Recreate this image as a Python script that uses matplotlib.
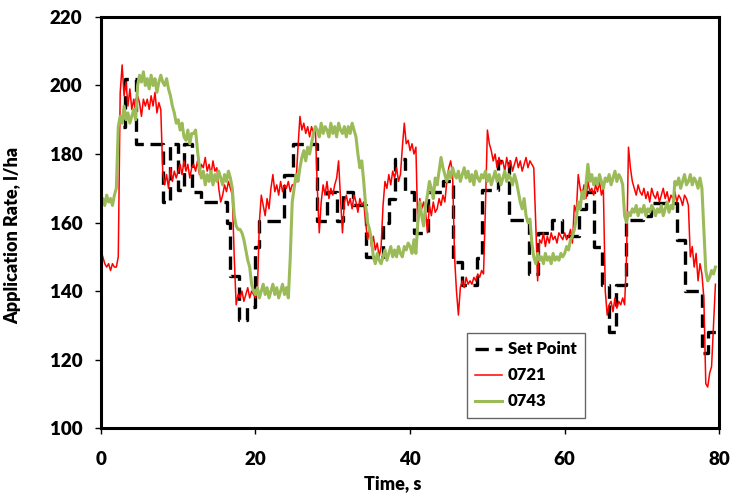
import matplotlib.pyplot as plt
import numpy as np

plt.rcParams['font.family'] = ['Lato', 'DejaVu Sans']

# nozzle 0721, application rate (l/ha) sampled every 0.25 s, one row = 2 s
rate_0721 = [
    152, 150, 148, 147, 148, 146, 148, 147,
    147, 150, 198, 206, 197, 201, 194, 199,
    193, 196, 192, 197, 195, 191, 196, 194,
    196, 193, 197, 194, 198, 192, 195, 193,
    175, 171, 174, 170, 176, 172, 175, 173,
    175, 177, 174, 178, 175, 177, 173, 176,
    177, 175, 178, 174, 177, 176, 179, 175,
    177, 174, 178, 175, 176, 170, 166, 168,
    171, 169, 172, 170, 168, 150, 136, 139,
    138, 140, 137, 139, 141, 138, 140, 139,
    138, 140, 160, 168, 165, 162, 167, 164,
    170, 174, 169, 171, 168, 172, 169, 171,
    170, 172, 169, 171, 171, 172, 182, 191,
    187, 189, 186, 188, 185, 188, 186, 187,
    170, 157, 166, 171, 168, 172, 167, 170,
    168, 171, 173, 178, 167, 157, 166, 168,
    165, 167, 164, 168, 166, 163, 167, 165,
    166, 160, 155, 158, 153, 156, 152, 154,
    150, 153, 165, 172, 170, 174, 171, 175,
    173, 176, 172, 174, 182, 189, 183, 184,
    181, 183, 180, 182, 158, 167, 164, 166,
    163, 157, 165, 162, 166, 163, 164, 167,
    165, 168, 166, 172, 176, 178, 174, 150,
    140, 133, 141, 143, 141, 144, 142, 143,
    142, 144, 143, 145, 144, 146, 145, 165,
    187, 183, 181, 178, 180, 176, 179, 177,
    178, 175, 179, 176, 178, 175, 177, 179,
    176, 178, 175, 177, 179, 176, 178, 177,
    176, 160, 143, 155, 154, 157, 153, 156,
    154, 157, 155, 156, 154, 157, 156, 155,
    157, 155, 156, 158, 154, 165, 163, 174,
    170, 168, 171, 167, 172, 169, 170, 168,
    171, 169, 172, 168, 170, 140, 133, 136,
    137, 134, 138, 135, 137, 136, 138, 136,
    150, 182, 176, 172, 170, 168, 171, 169,
    168, 170, 167, 169, 166, 170, 168, 167,
    169, 166, 168, 170, 167, 169, 166, 168,
    167, 169, 166, 168, 167, 165, 168, 167,
    165, 150, 153, 147, 151, 143, 148, 145,
    138, 113, 112, 116, 118, 130, 142,
]

# nozzle 0743
rate_0743 = [
    166, 167, 165, 168, 166, 167, 165, 168,
    170, 188, 191, 189, 194, 190, 192, 189,
    191, 193, 190, 200, 203, 201, 204, 200,
    202, 199, 203, 200, 202, 198, 201, 203,
    201, 200, 202, 199, 197, 194, 192, 189,
    190, 187, 189, 185, 184, 187, 183, 186,
    186, 187, 181, 176, 173, 175, 171, 174,
    172, 175, 171, 174, 172, 175, 173, 171,
    174, 172, 175, 173, 170, 162, 159, 158,
    158, 157, 155, 152, 149, 147, 142, 140,
    139, 141, 138, 140, 142, 139, 141, 138,
    140, 142, 139, 141, 138, 140, 142, 139,
    141, 138, 150, 166, 170, 174, 172, 176,
    179, 181, 178, 182, 180, 183, 186, 188,
    187, 185, 189, 186, 188, 187, 185, 189,
    186, 188, 185, 189, 187, 186, 188, 185,
    188, 186, 189, 187, 185, 180, 176, 178,
    172, 165, 160, 158, 155, 150, 148, 151,
    149, 148, 150, 152, 149, 151, 153, 150,
    152, 150, 153, 151, 150, 153, 152, 154,
    153, 151, 155, 151, 160, 166, 162, 159,
    165, 168, 172, 170, 167, 173, 171, 175,
    179, 176, 174, 172, 175, 173, 176, 174,
    173, 175, 172, 174, 176, 173, 175, 172,
    174, 171, 175, 173, 172, 174, 173, 175,
    172, 174, 171, 173, 175, 172, 174, 171,
    173, 175, 172, 174, 173, 171, 174, 172,
    169, 166, 164, 167, 162, 160, 161, 154,
    150, 148, 151, 149, 150, 148, 151, 149,
    150, 148, 151, 149, 150, 149, 151, 150,
    151, 153, 152, 155, 156, 158, 161, 166,
    164, 169, 167, 171, 177, 172, 174, 171,
    173, 171, 174, 172, 170, 173, 172, 174,
    171, 173, 175, 172, 174, 173, 171, 162,
    160, 163, 162, 164, 163, 165, 162, 164,
    163, 165, 162, 164, 163, 165, 164, 162,
    164, 163, 165, 162, 164, 166, 163, 165,
    164, 172, 171, 173, 170, 172, 174, 171,
    172, 174, 171, 173, 172, 170, 173, 170,
    158, 146, 143, 144, 146, 145, 147,
]

# set point changes (time s, rate l/ha), held until the next change
sp_time = [2.9, 3.1, 4.6, 8.0, 9.0, 10.0, 10.7, 11.8, 13.0, 16.3, 16.7, 17.9,
           18.9, 19.9, 20.4, 23.7, 24.9, 27.9, 29.3, 30.5, 31.3, 32.6, 34.3,
           36.5, 37.3, 38.1, 39.4, 40.5, 42.3, 44.3, 45.5, 46.7, 48.7, 49.3,
           51.4, 52.8, 55.4, 56.6, 58.3, 59.6, 61.8, 62.8, 63.8, 64.8, 65.7,
           66.6, 67.9, 70.1, 71.1, 74.5, 75.6, 77.8, 78.6, 79.6]
sp_value = [188, 202, 183, 166, 183, 169.5, 183, 169, 166, 160, 144.5, 131.5,
            135.5, 153, 160.5, 174, 183, 160.5, 169, 160.5, 169, 165, 150,
            160, 167, 178.5, 169, 157, 169, 172, 148.5, 141.8, 149.6, 169.5,
            178, 160.7, 145, 157, 160.7, 156, 164, 169, 152.8, 141.8, 128,
            141.8, 160.7, 162, 165.7, 155, 140, 122, 128, 128]

time = np.arange(len(rate_0721)) * 0.25

fig = plt.figure(figsize=(7.31, 4.99), dpi=100)
ax = fig.add_axes([0.138, 0.142, 0.846, 0.824])

ax.step(sp_time, sp_value, where='post', color='black', lw=2.4,
        ls=(0, (4, 2)), label='Set Point')
ax.plot(time, rate_0721, color='#FF0000', lw=1.1, label='0721')
ax.plot(time, rate_0743, color='#9BBB59', lw=2.2, label='0743')

ax.set_xlim(0, 80)
ax.set_ylim(100, 220)
ax.set_xticks(range(0, 81, 20))
ax.set_yticks(range(100, 221, 20))
for s in ax.spines.values():
    s.set_linewidth(2.2)
ax.tick_params(direction='out', length=4.5, width=1, labelsize=13.5)
ax.tick_params(axis='x', pad=12)
ax.tick_params(axis='y', pad=9)
for lbl in ax.get_xticklabels() + ax.get_yticklabels():
    lbl.set_fontweight('heavy')

ax.set_xlabel('Time, s', fontweight='heavy', fontsize=13)
ax.set_ylabel('Application Rate, l/ha', fontweight='heavy', fontsize=13)
ax.xaxis.set_label_coords(0.472, -0.113)
ax.yaxis.set_label_coords(-0.128, 0.468)

leg = ax.legend(loc='upper left', bbox_to_anchor=(0.592, 0.231), fancybox=False,
                edgecolor='#404040', prop={'weight': 'heavy', 'size': 12},
                handlelength=1.6, handletextpad=0.35, labelspacing=0.6,
                borderaxespad=0, borderpad=0.5)
leg.get_frame().set_linewidth(1)

fig.savefig('out.png', dpi=100)
